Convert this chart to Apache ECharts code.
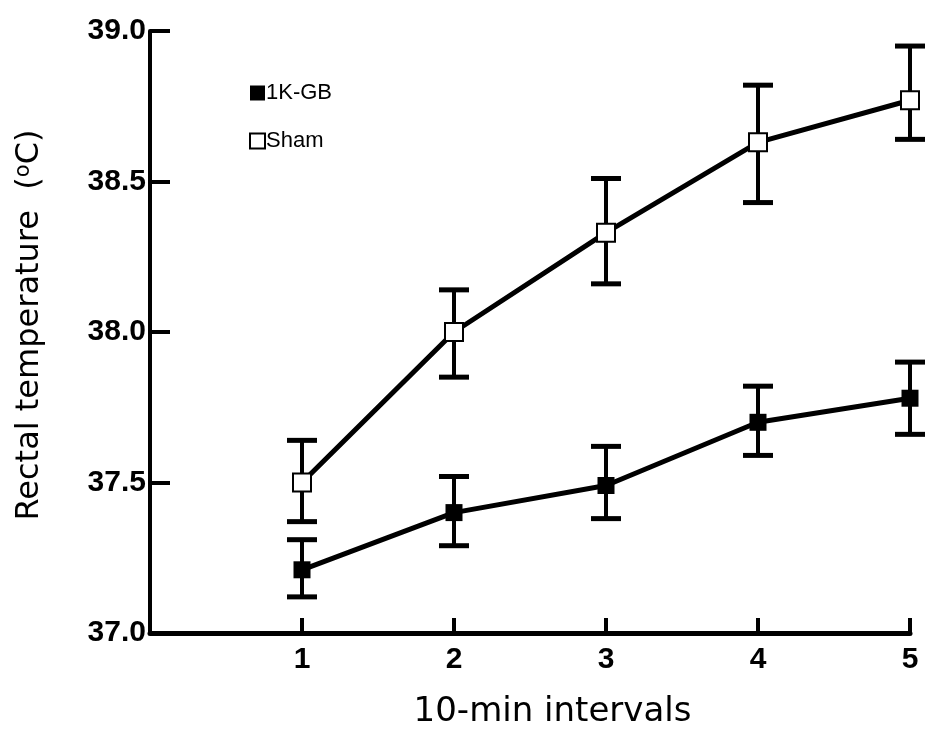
<!DOCTYPE html>
<html>
<head>
<meta charset="utf-8">
<script src="https://cdn.jsdelivr.net/npm/echarts@6/dist/echarts.min.js"></script>
<style>
html,body{margin:0;padding:0;background:#fff;}
#chart{width:928px;height:747px;}
</style>
</head>
<body>
<div id="chart"></div>
<script>
// ---- data ----
var intervals = [1, 2, 3, 4, 5];
var gbMean  = [37.21, 37.40, 37.49, 37.70, 37.78];
var gbLow   = [37.12, 37.29, 37.38, 37.59, 37.66];
var gbHigh  = [37.31, 37.52, 37.62, 37.82, 37.90];
var shamMean = [37.50, 38.00, 38.33, 38.63, 38.77];
var shamLow  = [37.37, 37.85, 38.16, 38.43, 38.64];
var shamHigh = [37.64, 38.14, 38.51, 38.82, 38.95];
var yTicks = [37.0, 37.5, 38.0, 38.5, 39.0];
var xTicks = [1, 2, 3, 4, 5];
var seriesNames = ['1K-GB', 'Sham'];

function pairs(xs, ys) { return xs.map(function (x, i) { return [x, ys[i]]; }); }
function triples(xs, lo, hi) { return xs.map(function (x, i) { return [x, lo[i], hi[i]]; }); }

function errRender(params, api) {
  var x = api.value(0);
  var lo = api.coord([x, api.value(1)]);
  var hi = api.coord([x, api.value(2)]);
  var hw = 15;
  var st = { stroke: '#000', lineWidth: 5, fill: null };
  return {
    type: 'group',
    children: [
      { type: 'line', shape: { x1: lo[0], y1: lo[1], x2: hi[0], y2: hi[1] }, style: { stroke: '#000', lineWidth: 4 } },
      { type: 'line', shape: { x1: hi[0] - hw, y1: hi[1], x2: hi[0] + hw, y2: hi[1] }, style: st },
      { type: 'line', shape: { x1: lo[0] - hw, y1: lo[1], x2: lo[0] + hw, y2: lo[1] }, style: st }
    ]
  };
}

var font = 'Liberation Sans, Arial, Helvetica, sans-serif';
var titleFont = 'DejaVu Sans, Liberation Sans, sans-serif';
var chart = echarts.init(document.getElementById('chart'), null, { renderer: 'canvas' });
chart.setOption({
  backgroundColor: '#fff',
  animation: false,
  grid: { left: 150, right: 18, top: 31, bottom: 114 },
  legend: {
    orient: 'vertical',
    left: 244,
    top: 77,
    itemWidth: 15,
    itemHeight: 15,
    itemGap: 26,
    icon: 'rect',
    data: seriesNames,
    textStyle: { fontFamily: font, fontSize: 22, color: '#000', padding: [0, 0, 0, -4] }
  },
  xAxis: {
    type: 'value',
    min: 0,
    max: 5,
    interval: 1,
    name: '10-min intervals',
    nameLocation: 'middle',
    nameGap: 62,
    nameTextStyle: { fontFamily: titleFont, fontSize: 34, color: '#000', padding: [0, 0, 0, 45] },
    axisLine: { show: true, lineStyle: { color: '#000', width: 5 } },
    axisTick: { show: true, inside: true, length: 15, lineStyle: { color: '#000', width: 4 } },
    axisLabel: {
      margin: 12,
      fontFamily: font, fontSize: 30, fontWeight: 'bold', color: '#000',
      formatter: function (v) { return xTicks.indexOf(v) >= 0 ? String(v) : ''; }
    },
    splitLine: { show: false }
  },
  yAxis: {
    type: 'value',
    min: 37,
    max: 39,
    interval: 0.5,
    name: '{a|Rectal temperature  (}{s|o}{a|C)}',
    nameLocation: 'middle',
    nameGap: 104,
    nameRotate: 90,
    nameTextStyle: {
      color: '#000',
      padding: [0, 0, 0, 14],
      rich: {
        a: { fontFamily: titleFont, fontSize: 32, color: '#000' },
        s: { fontFamily: titleFont, fontSize: 21, color: '#000', verticalAlign: 'top', padding: [0, 0, 12, 0] }
      }
    },
    axisLine: { show: true, lineStyle: { color: '#000', width: 4 } },
    axisTick: { show: true, inside: true, length: 20, lineStyle: { color: '#000', width: 4 } },
    axisLabel: {
      margin: 4,
      fontFamily: font, fontSize: 30, fontWeight: 'bold', color: '#000',
      formatter: function (v) { return yTicks.indexOf(Math.round(v * 10) / 10) >= 0 ? v.toFixed(1) : ''; }
    },
    splitLine: { show: false }
  },
  series: [
    {
      name: '1K-GB-err', type: 'custom', renderItem: errRender,
      data: triples(intervals, gbLow, gbHigh), z: 1, silent: true
    },
    {
      name: 'Sham-err', type: 'custom', renderItem: errRender,
      data: triples(intervals, shamLow, shamHigh), z: 1, silent: true
    },
    {
      name: '1K-GB', type: 'line', data: pairs(intervals, gbMean),
      symbol: 'rect', symbolSize: 17, showAllSymbol: true,
      lineStyle: { color: '#000', width: 5 },
      itemStyle: { color: '#000', borderColor: '#000', borderWidth: 0 },
      z: 3
    },
    {
      name: 'Sham', type: 'line', data: pairs(intervals, shamMean),
      symbol: 'rect', symbolSize: 18, showAllSymbol: true,
      lineStyle: { color: '#000', width: 5 },
      itemStyle: { color: '#fff', borderColor: '#000', borderWidth: 2 },
      z: 3
    }
  ]
});
</script>
</body>
</html>
